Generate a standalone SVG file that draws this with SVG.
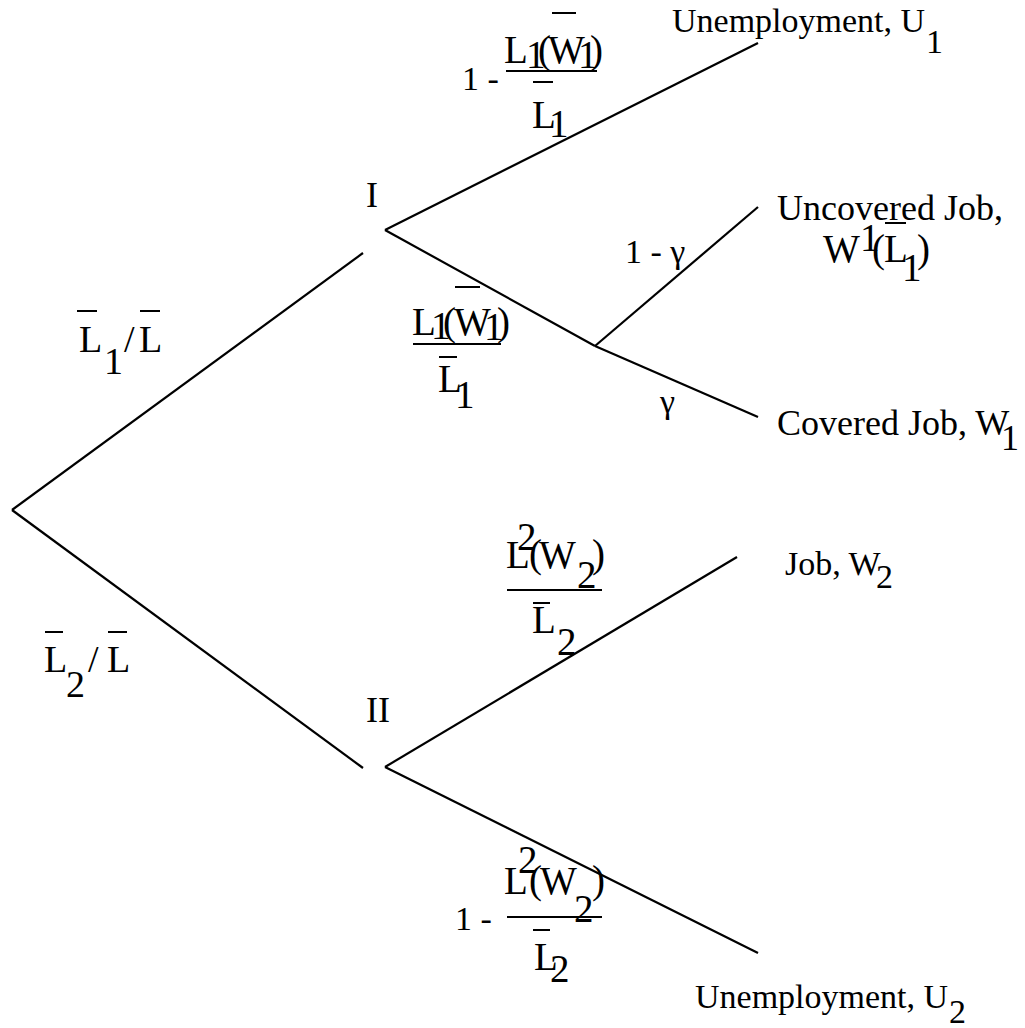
<svg xmlns="http://www.w3.org/2000/svg" width="1025" height="1028" viewBox="0 0 1025 1028">
<style>
text{font-family:"Liberation Serif","Times New Roman",serif;font-size:34px;fill:#000}
text.m{font-size:39px}
text.k{font-size:38px}
text.u{font-size:36px}
.e{stroke:#000;stroke-width:2.2;fill:none;stroke-linecap:butt}
.b{stroke:#000;stroke-width:2;fill:none}
</style>
<rect width="1025" height="1028" fill="#fff"/>
<g id="connectors">
<path class="e" d="M12,510 L363,253"/>
<path class="e" d="M12,510 L363,768"/>
<path class="e" d="M385,230 L758,43"/>
<path class="e" d="M385,230 L595,346"/>
<path class="e" d="M595,346 L758,207"/>
<path class="e" d="M595,346 L758,417"/>
<path class="e" d="M385,767 L737,557"/>
<path class="e" d="M385,767 L758,953"/>
</g>
<g id="label-root-I">
<path class="b" d="M77,311 H97 M140,311 H160"/>
<text class="k"><tspan x="79" y="352">L</tspan><tspan x="104" y="374">1</tspan><tspan x="124" y="352">/</tspan><tspan x="139" y="352">L</tspan></text>
</g>
<g id="label-root-II">
<path class="b" d="M45,632 H63 M108,632 H127"/>
<text class="k"><tspan x="44" y="672">L</tspan><tspan x="66" y="697">2</tspan><tspan x="88" y="672">/</tspan><tspan x="107" y="672">L</tspan></text>
</g>
<g id="node-I"><text class="u" x="366" y="207">I</text></g>
<g id="node-II"><text class="u" x="366" y="722">II</text></g>
<g id="label-I-U1">
<text x="462" y="90">1 -</text>
<path class="b" d="M552,13 H576 M506,71 H597 M533,82 H553"/>
<text class="m"><tspan x="504" y="63">L</tspan><tspan x="526" y="68">1</tspan><tspan x="538" y="63">(</tspan><tspan x="548" y="63">W</tspan><tspan x="578" y="68">1</tspan><tspan x="590" y="63">)</tspan></text>
<text class="m"><tspan x="532" y="128">L</tspan><tspan x="549" y="137">1</tspan></text>
</g>
<g id="label-I-chance">
<path class="b" d="M455,287 H480 M413,344 H501 M439,357 H457"/>
<text class="m"><tspan x="412" y="335">L</tspan><tspan x="431" y="339">1</tspan><tspan x="443" y="335">(</tspan><tspan x="454" y="335">W</tspan><tspan x="484" y="340">1</tspan><tspan x="497" y="335">)</tspan></text>
<text class="m"><tspan x="438" y="392">L</tspan><tspan x="455" y="408">1</tspan></text>
</g>
<g id="label-chance-uncovered"><text x="625" y="263">1 - γ</text></g>
<g id="label-chance-covered"><text x="660" y="413">γ</text></g>
<g id="label-II-job">
<path class="b" d="M507,590 H602 M533,603 H550"/>
<text class="m"><tspan x="506" y="568">L</tspan><tspan x="517" y="550">2</tspan><tspan x="529" y="567">(</tspan><tspan x="539" y="568">W</tspan><tspan x="577" y="588">2</tspan><tspan x="592" y="567">)</tspan></text>
<text class="m"><tspan x="532" y="633">L</tspan><tspan x="557" y="655">2</tspan></text>
</g>
<g id="label-II-U2">
<text x="455" y="930">1 -</text>
<path class="b" d="M507,917 H602 M533,930 H550"/>
<text class="m"><tspan x="504" y="894">L</tspan><tspan x="518" y="873">2</tspan><tspan x="529" y="893">(</tspan><tspan x="540" y="894">W</tspan><tspan x="574" y="922">2</tspan><tspan x="592" y="893">)</tspan></text>
<text class="m"><tspan x="534" y="970">L</tspan><tspan x="550" y="982">2</tspan></text>
</g>
<g id="node-U1"><text><tspan x="672" y="32">Unemployment, U</tspan><tspan x="926" y="53">1</tspan></text></g>
<g id="node-uncovered">
<text class="u" x="777" y="220">Uncovered Job,</text>
<path class="b" d="M885,223 H906"/>
<text class="m"><tspan x="823" y="262">W</tspan><tspan x="860" y="251">1</tspan><tspan x="872" y="262">(</tspan><tspan x="884" y="262">L</tspan><tspan x="902" y="281">1</tspan><tspan x="917" y="262">)</tspan></text>
</g>
<g id="node-covered"><text class="u"><tspan x="777" y="435">Covered Job, W</tspan><tspan x="1001" y="450">1</tspan></text></g>
<g id="node-job"><text><tspan x="785" y="575">Job, W</tspan><tspan x="876" y="588">2</tspan></text></g>
<g id="node-U2"><text><tspan x="695" y="1008">Unemployment, U</tspan><tspan x="949" y="1023">2</tspan></text></g>
</svg>
